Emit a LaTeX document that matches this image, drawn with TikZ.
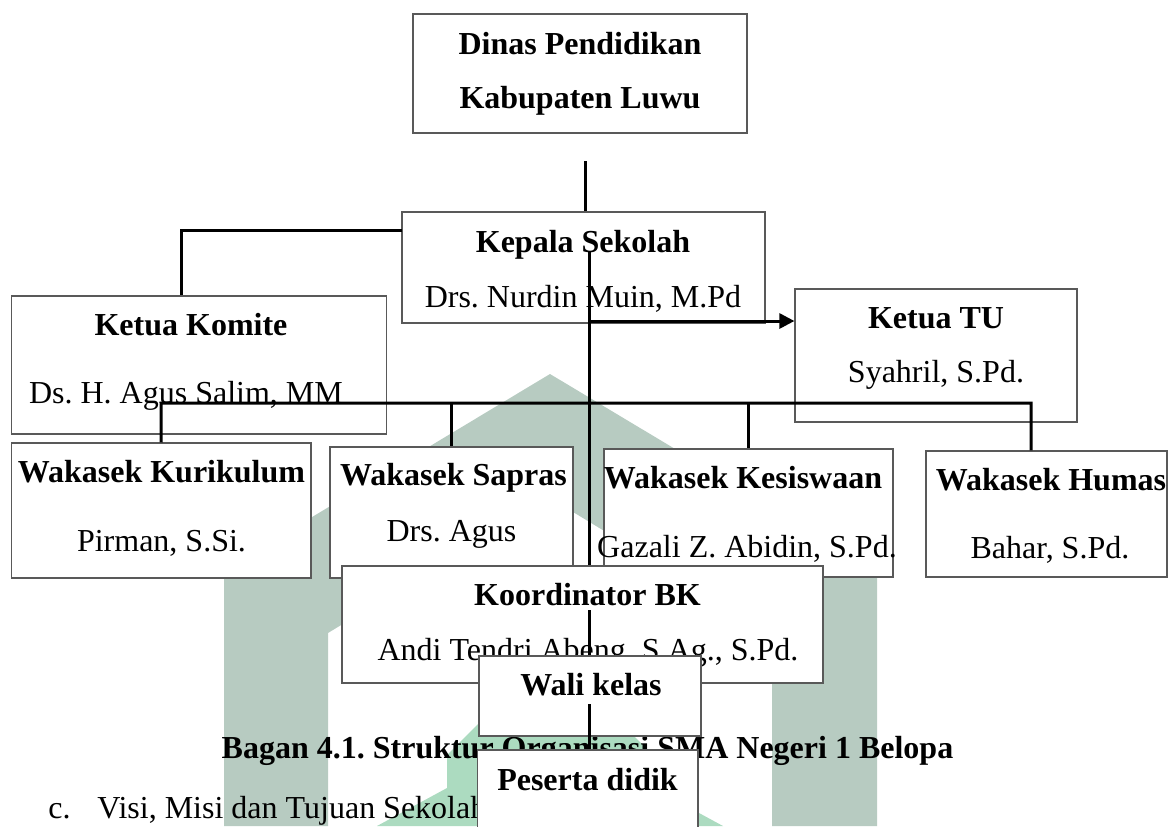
\documentclass[tikz,border=0pt]{standalone}
\usepackage{fontspec}
\setmainfont{Liberation Serif}
\usetikzlibrary{arrows.meta,fit}
\definecolor{wmgray}{RGB}{183,203,193}
\definecolor{wmgreen}{RGB}{172,219,192}
\frenchspacing
\begin{document}
\begin{tikzpicture}[x=0.5pt,y=-0.5pt,
  box/.style={draw=black!65, line width=0.6pt, fill=white, inner sep=0pt, fit={#1}},
  ttl/.style={font=\fontsize{16}{19}\selectfont\bfseries, inner sep=0pt, anchor=base},
  nm/.style={font=\fontsize{16}{19}\selectfont, inner sep=0pt, anchor=base},
  conn/.style={line width=1.5pt, black}]
\useasboundingbox (0,0) rectangle (1169,826);
\clip (0,0) rectangle (1169,826);
% watermark
\fill[wmgray] (224,826) -- (224,570) -- (550,374) -- (877,570) -- (877,826) -- (772,826)
  -- (772,633) -- (550,498) -- (328,633) -- (328,826) -- cycle;
\fill[wmgreen] (377,826) -- (447,788) -- (447,755) -- (550,652) -- (653,755) -- (653,788) -- (723,826) -- cycle;
% boxes
\node[box={(413,14) (747,133)}] (dinas) {};
\node[ttl] (dinas-1) at (580,54) {Dinas Pendidikan};
\node[ttl] (dinas-2) at (580,108) {Kabupaten Luwu};
\node[box={(402,212) (765,323)}] (kepala) {};
\node[ttl] (kepala-1) at (583,252) {Kepala Sekolah};
\node[nm] (kepala-2) at (583,307) {Drs. Nurdin Muin, M.Pd};
\node[box={(11.5,296) (386.5,434)}] (komite) {};
\node[ttl] (komite-1) at (191,335) {Ketua Komite};
\node[nm] (komite-2) at (186,403) {Ds. H. Agus Salim, MM};
\node[box={(795,289) (1077,422)}] (tu) {};
\node[ttl] (tu-1) at (936,328) {Ketua TU};
\node[nm] (tu-2) at (936,382) {Syahril, S.Pd.};
\node[box={(11.5,443) (311,578)}] (kurikulum) {};
\node[ttl] (kurikulum-1) at (161.5,482) {Wakasek Kurikulum};
\node[nm] (kurikulum-2) at (161.5,551) {Pirman, S.Si.};
\node[box={(330,447) (573,578)}] (sapras) {};
\node[ttl] (sapras-1) at (453.5,485) {Wakasek Sapras};
\node[nm] (sapras-2) at (451.5,541) {Drs. Agus};
\node[box={(604,449) (893,577)}] (kesiswaan) {};
\node[ttl] (kesiswaan-1) at (743,488) {Wakasek Kesiswaan};
\node[nm] (kesiswaan-2) at (747,557) {Gazali Z. Abidin, S.Pd.};
\node[box={(926,451) (1167,577)}] (humas) {};
\node[ttl] (humas-1) at (1051,490) {Wakasek Humas};
\node[nm] (humas-2) at (1050,558) {Bahar, S.Pd.};
% connectors
\coordinate (d1) at (585,161);
\draw[conn] (d1) -- (d1 |- kepala.north);
\coordinate (kk) at (402,230);
\draw[conn] (kk) -| ([xshift=-9pt]komite.north);
\coordinate (busL) at (161,403);
\coordinate (busR) at (1031,403);
\draw[conn] (kurikulum.north) -- (busL) -- (busR) -- (busR |- humas.north);
\draw[conn] (busL -| sapras.north) -- (sapras.north);
\draw[conn] (busL -| kesiswaan.north) -- (kesiswaan.north);
\coordinate (c1) at (589,252);
\node[box={(342,566) (823,683)}] (koord) {};
\draw[conn] (c1) -- (c1 |- koord.north);
\coordinate (a1) at (589,321);
\draw[conn,-{Triangle[length=7.5pt,width=7.5pt]}] (a1) -- (a1 -| tu.west);
% caption
\node[ttl] (caption) at (587.5,758) {Bagan 4.1. Struktur Organisasi SMA Negeri 1 Belopa};
\node[ttl] (koord-1) at (587.5,605) {Koordinator BK};
\node[nm] (koord-2) at (588,660) {Andi Tendri Abeng, S.Ag., S.Pd.};
\coordinate (k1) at (589,610);
\node[box={(479,656) (701,736)}] (wali) {};
\draw[conn] (k1) -- (k1 |- wali.north);
\node[ttl] (wali-1) at (591,695) {Wali kelas};
\coordinate (w1) at (589,704);
\node[nm, anchor=base west] (sub-c) at (48,818) {c.};
\node[nm, anchor=base west] (sub-t) at (97,818) {Visi, Misi dan Tujuan Sekolah};
\node[box={(477.5,750) (698,845)}] (peserta) {};
\draw[conn] (w1) -- (w1 |- peserta.north);
\node[ttl] (peserta-1) at (587.5,790) {Peserta didik};
\end{tikzpicture}
\end{document}
